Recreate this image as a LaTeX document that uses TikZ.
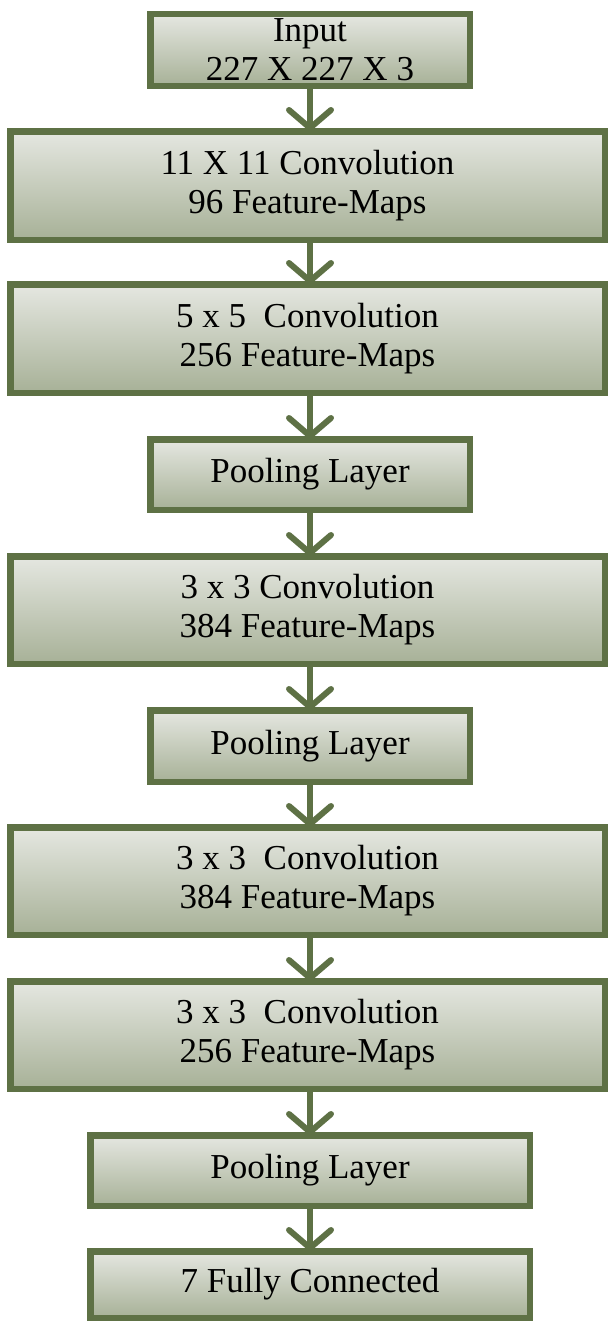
\documentclass[tikz,border=0pt]{standalone}
\usepackage{fontspec}
\setmainfont{Liberation Serif}
\usetikzlibrary{arrows.meta}
\definecolor{edge}{RGB}{94,113,69}
\definecolor{filltop}{RGB}{229,231,225}
\definecolor{fillbot}{RGB}{167,177,151}
\begin{document}
\begin{tikzpicture}[x=1pt,y=-1pt,
  layer/.style={draw=edge, line width=6.5pt, top color=filltop, bottom color=fillbot,
    align=center, font=\fontsize{35}{39}\selectfont, inner sep=0pt, text=black},
  wide/.style={layer, minimum width=594.5pt},
  mid/.style={layer, minimum width=319.5pt},
  low/.style={layer, minimum width=439.5pt},
  flow/.style={draw=edge, line width=6pt, -{Straight Barb[length=18pt,width=42pt,round]}, shorten >=-3pt}]
\useasboundingbox (0,0) rectangle (609,1322);
\node[mid, minimum height=71.5pt] (n1) at (310,50) {Input\\227 X 227 X 3};
\node[wide, minimum height=108.5pt] (n2) at (307.5,185.5) {11 X 11 Convolution\\96 Feature-Maps};
\node[wide, minimum height=108.5pt] (n3) at (307.5,338.5) {5 x 5~ Convolution\\256 Feature-Maps};
\node[mid, minimum height=70.5pt] (n4) at (310,474.5) {Pooling Layer};
\node[wide, minimum height=107.5pt] (n5) at (307.5,610) {3 x 3 Convolution\\384 Feature-Maps};
\node[mid, minimum height=71.5pt] (n6) at (310,746) {Pooling Layer};
\node[wide, minimum height=107.5pt] (n7) at (307.5,881) {3 x 3~ Convolution\\384 Feature-Maps};
\node[wide, minimum height=107.5pt] (n8) at (307.5,1035) {3 x 3~ Convolution\\256 Feature-Maps};
\node[low, minimum height=70.5pt] (n9) at (310,1170.5) {Pooling Layer};
\node[low, minimum height=66.5pt] (n10) at (310,1284.5) {7 Fully Connected};
\draw[flow] (n1.south) -- (n2.north -| n1.south);
\draw[flow] (n2.south -| n1.south) -- (n3.north -| n1.south);
\draw[flow] (n3.south -| n1.south) -- (n4.north);
\draw[flow] (n4.south) -- (n5.north -| n4.south);
\draw[flow] (n5.south -| n4.south) -- (n6.north);
\draw[flow] (n6.south) -- (n7.north -| n6.south);
\draw[flow] (n7.south -| n6.south) -- (n8.north -| n6.south);
\draw[flow] (n8.south -| n9.north) -- (n9.north);
\draw[flow] (n9.south) -- (n10.north);
\end{tikzpicture}
\end{document}
